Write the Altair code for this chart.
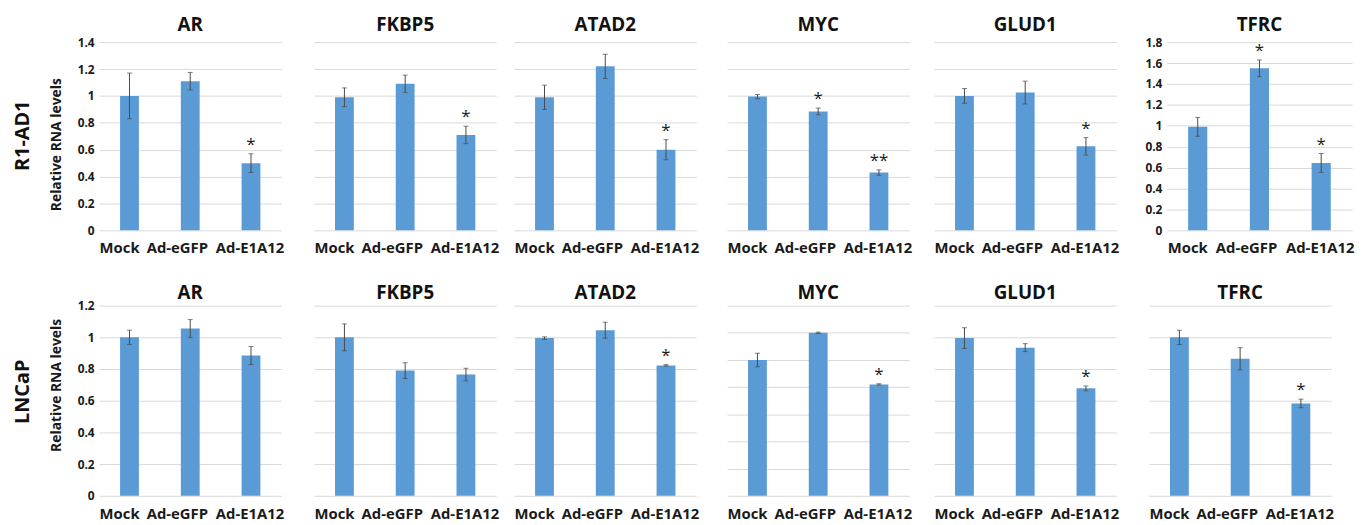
import altair as alt
import pandas as pd

genes = ["AR", "FKBP5", "ATAD2", "MYC", "GLUD1", "TFRC"]
conditions = ["Mock", "Ad-eGFP", "Ad-E1A12"]

# R1-AD1 row (means, error, significance marks) per gene
r1_mean = [[1.00, 1.11, 0.50], [0.99, 1.09, 0.71], [0.99, 1.22, 0.60],
           [0.995, 0.885, 0.43], [1.00, 1.025, 0.625], [0.99, 1.55, 0.645]]
r1_err = [[0.17, 0.065, 0.07], [0.07, 0.065, 0.065], [0.09, 0.09, 0.075],
          [0.015, 0.025, 0.02], [0.055, 0.085, 0.065], [0.09, 0.08, 0.09]]
r1_stars = [["", "", "*"], ["", "", "*"], ["", "", "*"],
            ["", "*", "**"], ["", "", "*"], ["", "*", "*"]]
r1_ymax = [1.4, 1.4, 1.4, 1.4, 1.4, 1.8]

# LNCaP row
ln_mean = [[1.00, 1.055, 0.885], [1.00, 0.79, 0.765], [0.995, 1.045, 0.823],
           [1.00, 1.20, 0.82], [0.995, 0.935, 0.678], [1.00, 0.865, 0.583]]
ln_err = [[0.045, 0.057, 0.057], [0.085, 0.05, 0.04], [0.008, 0.05, 0.005],
          [0.05, 0.005, 0.005], [0.065, 0.025, 0.015], [0.045, 0.07, 0.027]]
ln_stars = [["", "", ""], ["", "", ""], ["", "", "*"],
            ["", "", "*"], ["", "", "*"], ["", "", "*"]]
ln_ymax = [1.2, 1.2, 1.2, 1.4, 1.2, 1.2]

ticks_12 = [0, 0.2, 0.4, 0.6, 0.8, 1, 1.2]
ticks_14 = [0, 0.2, 0.4, 0.6, 0.8, 1, 1.2, 1.4]
ticks_18 = [0, 0.2, 0.4, 0.6, 0.8, 1, 1.2, 1.4, 1.6, 1.8]
tick_sets = {1.2: ticks_12, 1.4: ticks_14, 1.8: ticks_18}

y_title_text = "Relative RNA levels"
row_labels = ["R1-AD1", "LNCaP"]

FONT = "Open Sans"
BAR = "#5b9bd5"
ERR = "#4a4a4a"
TXT = "#1a1a1a"
GRID = "#d9d9d9"

label_offset = {
    "condition": [
        {"test": "datum.value === 'Mock'", "value": -10},
        {"test": "datum.value === 'Ad-eGFP'", "value": -13},
    ],
    "value": -1,
}


def panel(gene, means, errs, stars, ymax, show_y, y_title, title_y,
          width, height, title_offset, label_pad):
    df = pd.DataFrame({"cond": conditions, "mean": means, "err": errs, "star": stars})
    df["lo"] = df["mean"] - df["err"]
    df["hi"] = df["mean"] + df["err"]
    xs = alt.Scale(domain=conditions, paddingInner=0.69, paddingOuter=0.345)
    ys = alt.Scale(domain=[0, ymax], nice=False)
    xaxis = alt.Axis(title=None, labelAngle=0, domain=False, ticks=False,
                     labelPadding=label_pad, labelFontSize=15, labelFontWeight="bold",
                     labelFont=FONT, labelColor=TXT, labelOffset=label_offset)
    ykw = dict(values=tick_sets[ymax], grid=True, gridColor=GRID, gridWidth=1,
               domain=False, ticks=False, labels=show_y, labelFontSize=12,
               labelFont=FONT, labelFontWeight="bold", labelPadding=5,
               labelColor=TXT, format=".1~f")
    if y_title:
        ykw.update(title=y_title, titleFont=FONT, titleFontSize=14,
                   titleFontWeight="bold", titleColor=TXT, titlePadding=14,
                   titleY=title_y)
    else:
        ykw.update(title=None)
    yaxis = alt.Axis(**ykw)
    xenc = alt.X("cond:N", sort=conditions, scale=xs, axis=xaxis)
    base = alt.Chart(df)
    bars = base.mark_bar(color=BAR).encode(
        x=xenc, y=alt.Y("mean:Q", scale=ys, axis=yaxis))
    rule = base.mark_rule(color=ERR, strokeWidth=1).encode(
        x=xenc, y=alt.Y("lo:Q", scale=ys, axis=yaxis), y2="hi:Q")
    cap_hi = base.mark_tick(color=ERR, thickness=1, size=5).encode(
        x=xenc, y=alt.Y("hi:Q", scale=ys, axis=yaxis))
    cap_lo = base.mark_tick(color=ERR, thickness=1, size=5).encode(
        x=xenc, y=alt.Y("lo:Q", scale=ys, axis=yaxis))
    star = base.transform_filter("datum.star != ''").mark_text(
        font=FONT, fontSize=17, color=TXT, baseline="alphabetic", dy=-4).encode(
        x=xenc, y=alt.Y("hi:Q", scale=ys, axis=yaxis), text="star:N")
    # the y-axis labels reach ~6px above the plot; the title offset counts from there
    off = title_offset - 6 if show_y else title_offset
    return alt.layer(bars, rule, cap_hi, cap_lo, star).properties(
        width=width, height=height,
        title=alt.TitleParams(gene, font=FONT, fontSize=19, fontWeight="bold",
                              color="#111111", offset=off, anchor="middle",
                              frame="group"))


def chain(panels, spacings, title):
    c = panels[0]
    for p, s in zip(panels[1:], spacings):
        c = alt.hconcat(c, p, spacing=s)
    return c.properties(title=title)


top_widths = [184, 184, 184, 184, 184, 187]
bot_widths = [184, 184, 184, 184, 184, 184]

top_panels = [
    panel(genes[i], r1_mean[i], r1_err[i], r1_stars[i], r1_ymax[i],
          show_y=(i == 0 or i == 5), y_title=(y_title_text if i == 0 else None),
          title_y=103, width=top_widths[i], height=190, title_offset=7, label_pad=10)
    for i in range(6)
]
bot_panels = [
    panel(genes[i], ln_mean[i], ln_err[i], ln_stars[i], ln_ymax[i],
          show_y=(i == 0), y_title=(y_title_text if i == 0 else None),
          title_y=80, width=bot_widths[i], height=192, title_offset=3, label_pad=11)
    for i in range(6)
]

row_title_kw = dict(orient="left", font=FONT, fontSize=20, fontWeight="bold",
                    color="#111111", anchor="middle", offset=17)
row1 = chain(top_panels, [29, 14, 27, 21, 25],
             alt.TitleParams(row_labels[0], **row_title_kw))
row2 = chain(bot_panels, [29, 14, 27, 21, 29],
             alt.TitleParams(row_labels[1], dx=11, **row_title_kw))

chart = alt.vconcat(row1, row2, spacing=29).properties(
    padding={"left": 4, "top": 6, "right": 4, "bottom": 4},
    background="white",
).configure_view(stroke=None)

chart.save("out.html", embed_options={"renderer": "svg", "actions": False})
